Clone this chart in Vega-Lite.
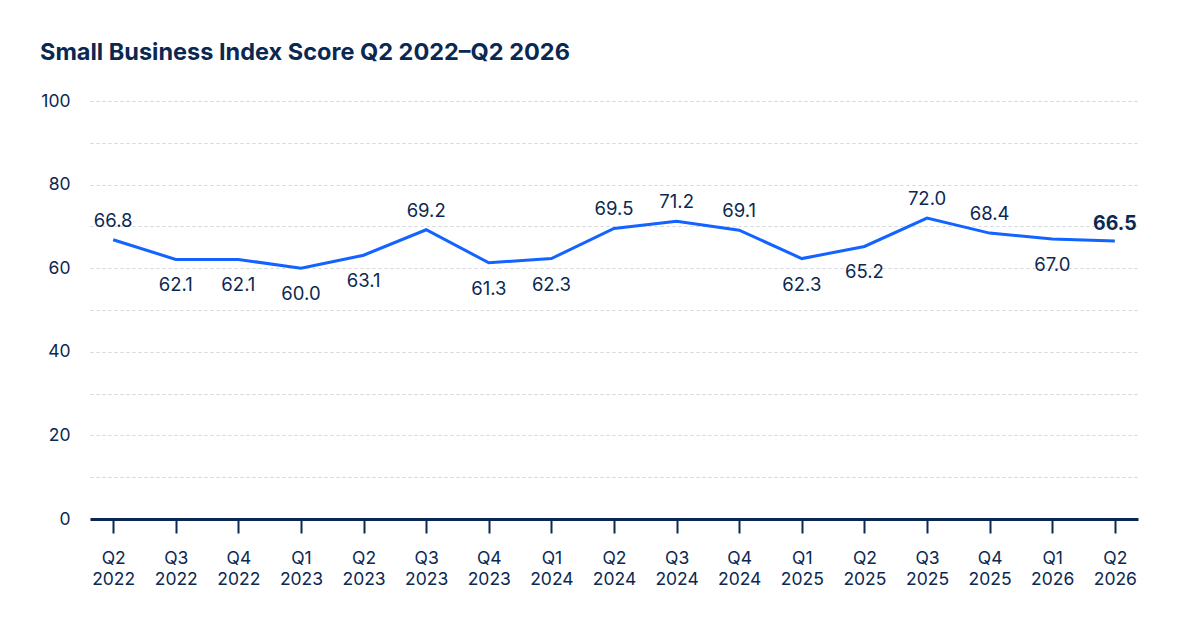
{
  "$schema": "https://vega.github.io/schema/vega-lite/v6.json",
  "background": "#ffffff",
  "autosize": {"type": "none"},
  "width": 1048,
  "height": 418,
  "padding": {"left": 90, "top": 101, "right": 42, "bottom": 101},
  "config": {
    "view": {"stroke": null},
    "font": "Inter",
    "axis": {
      "labelFont": "Inter",
      "labelFontSize": 17.5,
      "labelColor": "#0b2852",
      "titleColor": "#0b2852"
    }
  },
  "title": {
    "text": "Small Business Index Score Q2 2022–Q2 2026",
    "anchor": "start",
    "frame": "group",
    "font": "Inter",
    "fontSize": 23.5,
    "fontWeight": "bold",
    "color": "#0b2852",
    "baseline": "alphabetic",
    "offset": 0,
    "dx": -50,
    "dy": -9
  },
  "data": {
    "values": [
      {"quarter": "Q2 2022", "score": 66.8},
      {"quarter": "Q3 2022", "score": 62.1},
      {"quarter": "Q4 2022", "score": 62.1},
      {"quarter": "Q1 2023", "score": 60.0},
      {"quarter": "Q2 2023", "score": 63.1},
      {"quarter": "Q3 2023", "score": 69.2},
      {"quarter": "Q4 2023", "score": 61.3},
      {"quarter": "Q1 2024", "score": 62.3},
      {"quarter": "Q2 2024", "score": 69.5},
      {"quarter": "Q3 2024", "score": 71.2},
      {"quarter": "Q4 2024", "score": 69.1},
      {"quarter": "Q1 2025", "score": 62.3},
      {"quarter": "Q2 2025", "score": 65.2},
      {"quarter": "Q3 2025", "score": 72.0},
      {"quarter": "Q4 2025", "score": 68.4},
      {"quarter": "Q1 2026", "score": 67.0},
      {"quarter": "Q2 2026", "score": 66.5}
    ]
  },
  "encoding": {
    "x": {
      "field": "quarter",
      "type": "ordinal",
      "sort": null,
      "title": null,
      "scale": {"type": "point", "padding": 0.37},
      "axis": {
        "labelAngle": 0,
        "labelExpr": "split(datum.label, ' ')",
        "labelLineHeight": 21,
        "labelPadding": 16,
        "tickSize": 14,
        "tickWidth": 2,
        "tickColor": "#0b2852",
        "domainColor": "#0b2852",
        "domainWidth": 3,
        "grid": false,
        "zindex": 2
      }
    },
    "y": {
      "field": "score",
      "type": "quantitative",
      "title": null,
      "scale": {"domain": [0, 100], "nice": false},
      "axis": {
        "values": [0, 10, 20, 30, 40, 50, 60, 70, 80, 90, 100],
        "labelExpr": "datum.value % 20 == 0 ? datum.label : ''",
        "domain": false,
        "ticks": false,
        "labelPadding": 20,
        "grid": true,
        "gridColor": "#d4d6da",
        "gridDash": [3, 3],
        "gridWidth": 1
      }
    }
  },
  "layer": [
    {
      "mark": {"type": "line", "color": "#1263ff", "strokeWidth": 3}
    },
    {
      "transform": [
        {"filter": "indexof(['Q2 2022','Q3 2023','Q2 2024','Q3 2024','Q4 2024','Q3 2025','Q4 2025'], datum.quarter) >= 0"}
      ],
      "mark": {"type": "text", "font": "Inter", "fontSize": 18.5, "color": "#0b2852", "baseline": "alphabetic", "dy": -13},
      "encoding": {"text": {"field": "score", "type": "quantitative", "format": ".1f"}}
    },
    {
      "transform": [
        {"filter": "indexof(['Q3 2022','Q4 2022','Q1 2023','Q2 2023','Q4 2023','Q1 2024','Q1 2025','Q2 2025','Q1 2026'], datum.quarter) >= 0"}
      ],
      "mark": {"type": "text", "font": "Inter", "fontSize": 18.5, "color": "#0b2852", "baseline": "alphabetic", "dy": 32},
      "encoding": {"text": {"field": "score", "type": "quantitative", "format": ".1f"}}
    },
    {
      "transform": [{"filter": "datum.quarter == 'Q2 2026'"}],
      "mark": {"type": "text", "font": "Inter", "fontSize": 19.5, "fontWeight": "bold", "color": "#0b2852", "baseline": "alphabetic", "dy": -11},
      "encoding": {"text": {"field": "score", "type": "quantitative", "format": ".1f"}}
    }
  ]
}
